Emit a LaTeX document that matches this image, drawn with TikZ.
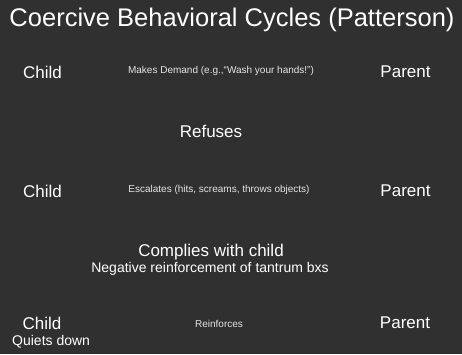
\documentclass[tikz,border=0pt]{standalone}
\usepackage{fontspec}
\setmainfont{Liberation Sans}
\usepackage{tikz}

\definecolor{slidegray}{RGB}{48,48,48}
\tikzset{
 bigtxt/.style={text=white, inner sep=0pt, font=\fontsize{17}{19}\selectfont},
 smalltxt/.style={text=white!90!black, inner sep=0pt, font=\fontsize{10}{12}\selectfont},
}

\begin{document}
\begin{tikzpicture}[x=1pt,y=-1pt]
 \fill[slidegray] (0,0) rectangle (462,354);
 \useasboundingbox (0,0) rectangle (462,354);
 \node[bigtxt, font=\fontsize{25.5}{28}\selectfont] (title) at (232,20) {Coercive Behavioral Cycles (Patterson)};
 % demand
 \node[bigtxt] (child1) at (42.5,72) {Child};
 \node[smalltxt] (demand) at (221,71) {Makes Demand (e.g.,“Wash your hands!”)};
 \node[bigtxt] (parent1) at (405.5,72) {Parent};
 \node[bigtxt] (refuses) at (211,131) {Refuses};
 % escalation
 \node[bigtxt] (child2) at (42.5,191) {Child};
 \node[smalltxt] (escalates) at (219,190) {Escalates (hits, screams, throws objects)};
 \node[bigtxt] (parent2) at (405.5,191) {Parent};
 \node[bigtxt, anchor=base] (complies) at (211,256.5) {Complies with child};
 \node[bigtxt, font=\fontsize{14}{16}\selectfont, anchor=base] (negreinf) at (210,272.5) {Negative reinforcement of tantrum bxs};
 % reinforcement
 \node[bigtxt] (child3) at (42,323) {Child};
 \node[smalltxt] (reinforces) at (219,324) {Reinforces};
 \node[bigtxt] (parent3) at (405,323) {Parent};
 \node[bigtxt, font=\fontsize{14}{16}\selectfont, anchor=west] (quiets) at (12,342) {Quiets down};
\end{tikzpicture}
\end{document}
